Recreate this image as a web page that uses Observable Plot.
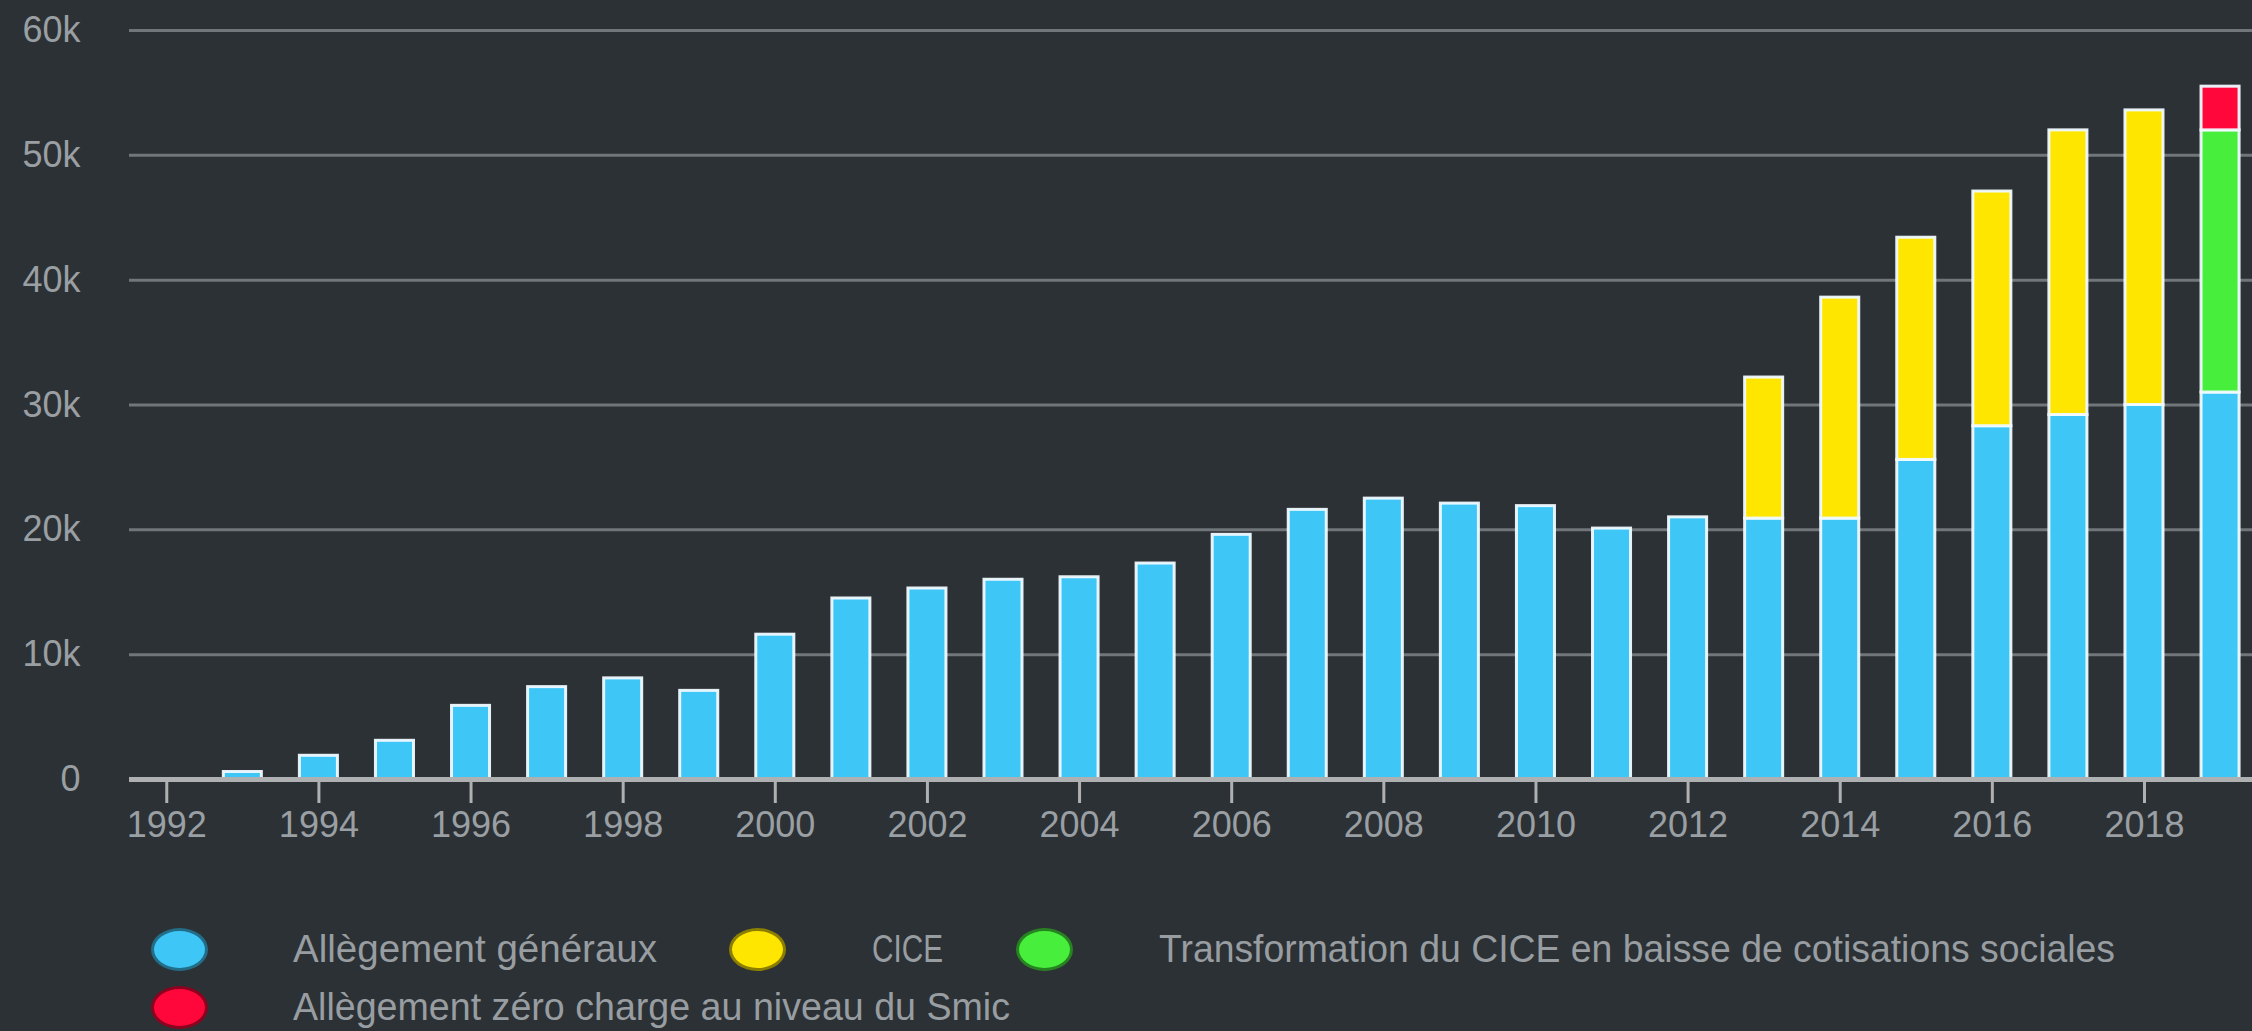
<!DOCTYPE html>
<html>
<head>
<meta charset="utf-8">
<script src="https://cdn.jsdelivr.net/npm/d3@7"></script>
<script src="https://cdn.jsdelivr.net/npm/@observablehq/plot@0.6"></script>
<style>
  html, body { margin: 0; padding: 0; background: #2c3135; width: 2252px; height: 1031px; overflow: hidden; }
  #chart svg { display: block; }
  #legend { position: relative; width: 2252px; height: 131px; font-family: "Liberation Sans", Arial, sans-serif; color: #989da1; }
  .dot { position: absolute; width: 57px; height: 43px; border-radius: 50%; box-sizing: border-box; border: 3px solid rgba(0,0,0,0.45); }
  .lab { position: absolute; font-size: 38px; line-height: 1; white-space: nowrap; transform-origin: left center; }
</style>
</head>
<body>
<div id="chart"></div>
<div id="legend"></div>
<script>
// ---- data (values in thousands) ----
const years = [1993, 1994, 1995, 1996, 1997, 1998, 1999, 2000, 2001, 2002, 2003, 2004, 2005, 2006, 2007, 2008, 2009, 2010, 2011, 2012, 2013, 2014, 2015, 2016, 2017, 2018, 2019];
const allegementGeneraux = [0.6, 1.9, 3.1, 5.9, 7.4, 8.1, 7.1, 11.6, 14.5, 15.3, 16.0, 16.2, 17.3, 19.6, 21.6, 22.5, 22.1, 21.9, 20.1, 21.0, 20.9, 20.9, 25.6, 28.3, 29.2, 30.0, 31.0];
const ciceYears = [2013, 2014, 2015, 2016, 2017, 2018];
const cice = [11.3, 17.7, 17.8, 18.8, 22.8, 23.6];
const transformationYears = [2019];
const transformation = [21.0];
const zeroChargeYears = [2019];
const zeroCharge = [3.5];

const seriesNames = ["Allègement généraux", "CICE", "Transformation du CICE en baisse de cotisations sociales", "Allègement zéro charge au niveau du Smic"];
const seriesColors = ["#3ec6f7", "#ffe600", "#47ee3c", "#ff073a"];

const xTicks = [1992, 1994, 1996, 1998, 2000, 2002, 2004, 2006, 2008, 2010, 2012, 2014, 2016, 2018];
const yTicks = [0, 10, 20, 30, 40, 50, 60];
const yTickLabels = ["0", "10k", "20k", "30k", "40k", "50k", "60k"];

// ---- build stacked table ----
const seriesData = [
  [years, allegementGeneraux],
  [ciceYears, cice],
  [transformationYears, transformation],
  [zeroChargeYears, zeroCharge]
];
const base = new Map();
const table = [];
seriesData.forEach(([ys, vs], si) => {
  ys.forEach((yr, i) => {
    const y1 = base.get(yr) || 0;
    const y2 = y1 + vs[i];
    base.set(yr, y2);
    table.push({year: yr, series: seriesNames[si], value: vs[i], y1, y2});
  });
});

const textColor = "#9a9fa3";
const chart = Plot.plot({
  width: 2252,
  height: 900,
  marginLeft: 129,
  marginRight: 0,
  marginTop: 30,
  marginBottom: 121,
  style: {background: "transparent", fontFamily: "'Liberation Sans', Arial, sans-serif", fontSize: "36px", color: textColor},
  x: {domain: [1991.51, 2019.42]},
  y: {domain: [0, 60]},
  color: {domain: seriesNames, range: seriesColors},
  marks: [
    Plot.ruleY(yTicks.filter(d => d > 0), {stroke: "#71767a", strokeWidth: 3}),
    Plot.rect(table, {
      x1: d => d.year - 0.25, x2: d => d.year + 0.25,
      y1: "y1", y2: "y2",
      fill: "series",
      stroke: "#f0faff", strokeWidth: 3, strokeOpacity: 0.95
    }),
    Plot.ruleY([0], {stroke: "#aeb0b2", strokeWidth: 5}),
    Plot.axisX({ticks: xTicks, tickFormat: d => String(d), tickSize: 24, tickPadding: 8, stroke: "#aeb0b2", strokeWidth: 3, fill: textColor, fontSize: 36, label: null}),
    Plot.axisY({ticks: yTicks, tickFormat: d => yTickLabels[yTicks.indexOf(d)], tickSize: 0, tickPadding: 49, fill: textColor, fontSize: 36, label: null})
  ]
});
document.getElementById("chart").appendChild(chart);

// ---- legend ----
const legendLayout = [
  {dot: [151, 28], text: [293, 49], width: 364},
  {dot: [729, 28], text: [872, 49], width: 71},
  {dot: [1016, 28], text: [1159, 49], width: 956},
  {dot: [151, 86], text: [293, 107], width: 717}
];
const legend = document.getElementById("legend");
seriesNames.forEach((name, i) => {
  const L = legendLayout[i];
  const dot = document.createElement("div");
  dot.className = "dot";
  dot.style.left = L.dot[0] + "px";
  dot.style.top = L.dot[1] + "px";
  dot.style.background = seriesColors[i];
  legend.appendChild(dot);
  const lab = document.createElement("span");
  lab.className = "lab";
  lab.textContent = name;
  lab.style.left = L.text[0] + "px";
  lab.style.top = L.text[1] + "px";
  legend.appendChild(lab);
  const w = lab.getBoundingClientRect().width;
  const s = w > 0 ? L.width / w : 1;
  lab.style.transform = `translateY(-50%) scaleX(${s})`;
});
</script>
</body>
</html>
